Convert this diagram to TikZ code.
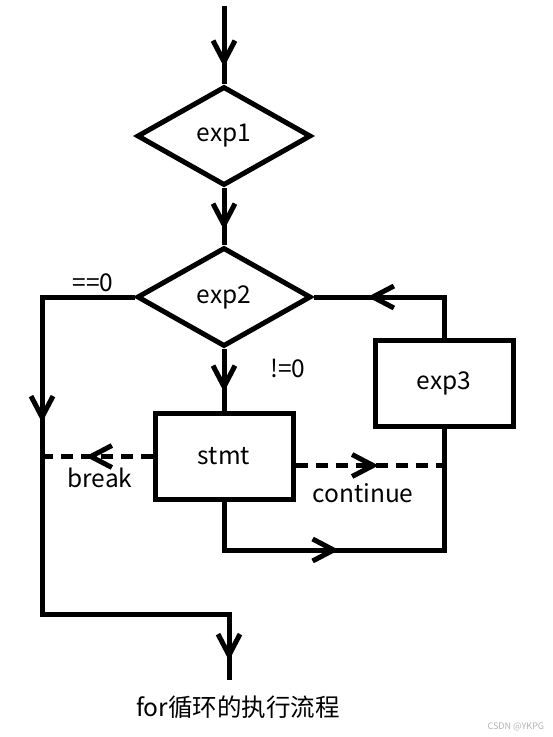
\documentclass[tikz,border=0pt]{standalone}
\usepackage{fontspec}
\setmainfont{Noto Sans CJK SC}
\usetikzlibrary{shapes,arrows.meta,positioning,decorations.markings}

\begin{document}
\begin{tikzpicture}[x=1pt, y=-1pt, line width=5pt, font=\fontsize{24.5}{28}\selectfont]
    \tikzset{
        dia/.style      =   { diamond
                            , draw=black
                            , inner sep=0pt
                            , minimum width=174pt
                            , minimum height=99pt
        }
        , box/.style    =   { rectangle
                            , draw=black
                            , minimum width=138pt
                            , minimum height=86pt
        }
        , flow/.style   =   { postaction={decorate
                            , decoration={markings
                            , mark=at position #1 with {\arrow{Straight Barb[length=21pt, width=22pt]}}}}
        }
        , dashline/.style = { dash pattern=on 12pt off 8pt
        }
    }
    \useasboundingbox (0,0) rectangle (553,737);

    \coordinate(start) at (225,6);
    \node(exp1)[dia] at (224,136) {exp1};
    \node(exp2)[dia, below=57pt of exp1] {exp2};
    \node(stmt)[box, below=62pt of exp2] {stmt};
    \node(exp3)[box] at (444,383) {exp3};
    \coordinate(join) at (42,614);
    \coordinate(out) at (229,680);
    \coordinate(cont) at ([yshift=-9pt]stmt.east);

    \node(eq)  at (93,283)  {==0};
    \node(ne)  at (288,368) {!=0};
    \node(brk) at (100,478) {break};
    \node(cnt) at (363,493) {continue};
    \node(cap) at (238,707) {for循环的执行流程};
    \node(wm)[anchor=east, text=black!30, font=\fontsize{9}{10}\selectfont] at (550,727) {CSDN @YKPG};

    \draw[flow=61pt] (exp1.north |- start) -- (exp1);
    \draw[flow=42pt] (exp1) -- (exp2);
    \draw[flow=43pt] (exp2) -- (stmt);
    \draw[flow=218pt, flow=643pt] (exp2.west) -| (join) -- (out |- join) -- (out);
    \draw[dashline, flow=67pt] (stmt.west) -- (stmt.west -| join);
    \draw[dashline, flow=83pt] (cont) -- (cont -| exp3.south);
    \draw[flow=163pt] (stmt.south) -- ++(0,48) -| (exp3.south);
    \draw[flow=117pt] (exp3.north) |- (exp2.east);
\end{tikzpicture}
\end{document}
